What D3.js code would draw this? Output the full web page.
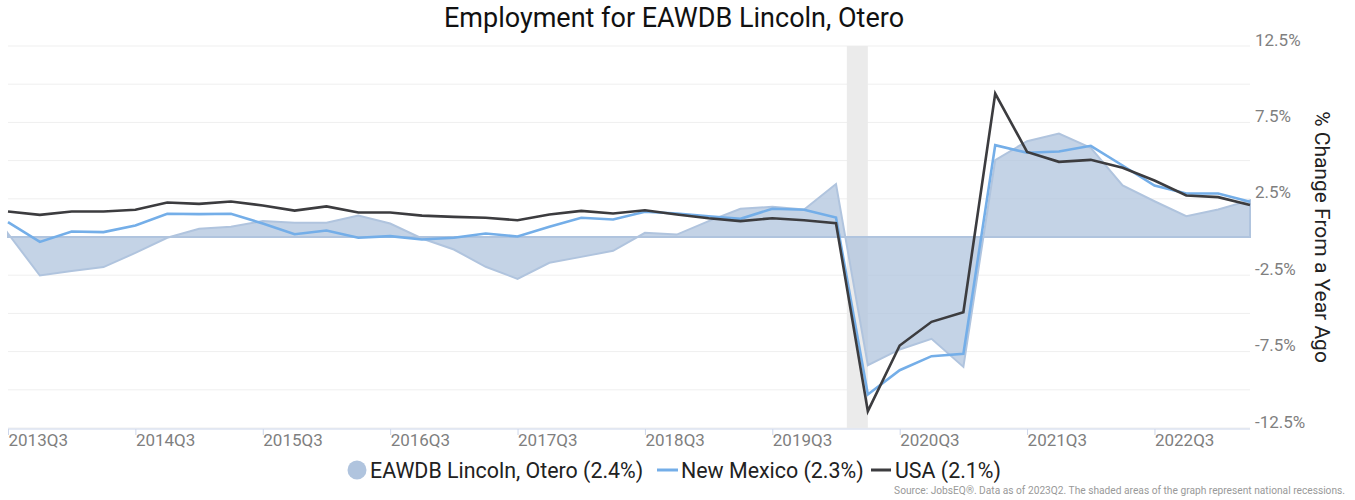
<!DOCTYPE html>
<html>
<head>
<meta charset="utf-8">
<script src="https://cdn.jsdelivr.net/npm/d3@7"></script>
<style>
  body { margin: 0; background: #fff; }
  text { font-family: Roboto, "Noto Sans", sans-serif; }
</style>
</head>
<body>
<div id="chart"></div>
<script>
// quarters shown on the x axis
var quarters = [
  "2013Q3","2013Q4","2014Q1","2014Q2","2014Q3","2014Q4","2015Q1","2015Q2",
  "2015Q3","2015Q4","2016Q1","2016Q2","2016Q3","2016Q4","2017Q1","2017Q2",
  "2017Q3","2017Q4","2018Q1","2018Q2","2018Q3","2018Q4","2019Q1","2019Q2",
  "2019Q3","2019Q4","2020Q1","2020Q2","2020Q3","2020Q4","2021Q1","2021Q2",
  "2021Q3","2021Q4","2022Q1","2022Q2","2022Q3","2022Q4","2023Q1","2023Q2"
];

var lincolnOtero = [
  0.23,-2.52,-2.23,-1.97,-1.04,-0.05,0.54,0.67,1.04,0.93,
  0.93,1.41,0.88,-0.1,-0.82,-1.95,-2.74,-1.69,-1.3,-0.9,
  0.27,0.16,1.04,1.85,1.98,1.8,3.47,-8.39,-7.36,-6.66,
  -8.5,5.03,6.27,6.77,5.84,3.37,2.34,1.36,1.8,2.4
];

var newMexico = [
  0.97,-0.32,0.36,0.32,0.75,1.52,1.5,1.52,0.88,0.18,
  0.42,-0.05,0.06,-0.16,-0.05,0.23,0.03,0.67,1.26,1.15,
  1.65,1.54,1.36,1.19,1.85,1.78,1.28,-10.31,-8.72,-7.8,
  -7.65,6.01,5.51,5.6,5.97,4.68,3.37,2.85,2.85,2.3
];

var usa = [
  1.67,1.45,1.67,1.67,1.78,2.26,2.17,2.32,2.06,1.73,
  2.0,1.6,1.6,1.4,1.32,1.26,1.1,1.47,1.71,1.54,
  1.75,1.47,1.23,1.04,1.23,1.1,0.9,-11.4,-7.1,-5.55,
  -4.92,9.39,5.57,4.92,5.05,4.53,3.7,2.72,2.61,2.1
];

var tickLabels = ["2013Q3","2014Q3","2015Q3","2016Q3","2017Q3","2018Q3","2019Q3","2020Q3","2021Q3","2022Q3"];
var yTicks = [12.5, 10, 7.5, 5, 2.5, 0, -2.5, -5, -7.5, -10, -12.5];
var yLabels = [12.5, 7.5, 2.5, -2.5, -7.5, -12.5];

// recession: Feb 2020 - Apr 2020, in quarter index units
var recession = [26 + 31 / 91, 27];

var svgWidth = 1355;
var svgHeight = 500;

var svg = d3.select("#chart")
  .append("svg")
  .attr("width", svgWidth)
  .attr("height", svgHeight);

var xScale = d3.scaleLinear()
  .domain([0, quarters.length - 1])
  .range([8, 1250]);

var yScale = d3.scaleLinear()
  .domain([-12.5, 12.5])
  .range([428, 46]);

// title
svg.append("text")
  .attr("x", 674)
  .attr("y", 27)
  .attr("text-anchor", "middle")
  .style("font-size", "27px")
  .style("fill", "#111")
  .text("Employment for EAWDB Lincoln, Otero");

// gridlines
svg.append("g")
  .selectAll("line")
  .data(yTicks)
  .enter()
  .append("line")
  .attr("x1", xScale(0))
  .attr("x2", xScale(quarters.length - 1))
  .attr("y1", d => yScale(d))
  .attr("y2", d => yScale(d))
  .attr("stroke", "#efefef")
  .attr("stroke-width", 1);

// recession band
svg.append("rect")
  .attr("x", xScale(recession[0]))
  .attr("y", yScale(12.5))
  .attr("width", xScale(recession[1]) - xScale(recession[0]))
  .attr("height", yScale(-12.5) - yScale(12.5))
  .attr("fill", "#ebebeb");

// area for the region
var area = d3.area()
  .x((d, i) => xScale(i))
  .y0(yScale(0))
  .y1(d => yScale(d));

svg.append("path")
  .datum(lincolnOtero)
  .attr("d", area)
  .attr("fill", "#b0c4de")
  .attr("fill-opacity", 0.75)
  .attr("stroke", "#b0c4de")
  .attr("stroke-width", 2);

var line = d3.line()
  .x((d, i) => xScale(i))
  .y(d => yScale(d));

svg.append("path")
  .datum(newMexico)
  .attr("d", line)
  .attr("fill", "none")
  .attr("stroke", "#74aee8")
  .attr("stroke-width", 2.6);

svg.append("path")
  .datum(usa)
  .attr("d", line)
  .attr("fill", "none")
  .attr("stroke", "#3c3c3f")
  .attr("stroke-width", 2.6);

// x axis
var xAxis = svg.append("g")
  .attr("transform", "translate(0, 429)")
  .call(d3.axisBottom(xScale)
    .tickValues(tickLabels.map(t => quarters.indexOf(t)))
    .tickFormat(i => quarters[i])
    .tickSize(6)
    .tickSizeOuter(0));

xAxis.select(".domain")
  .attr("stroke", "#ccd6eb")
  .attr("d", "M" + xScale(0) + ",0H" + xScale(quarters.length - 1));
xAxis.selectAll(".tick line").attr("stroke", "#ccd6eb");
xAxis.selectAll(".tick text")
  .attr("text-anchor", "start")
  .attr("x", 0)
  .attr("y", 5)
  .attr("dy", "0.71em")
  .style("font-size", "17px")
  .style("font-family", "Roboto, sans-serif")
  .style("fill", "#7f7f7f");

// right axis labels
svg.append("g")
  .selectAll("text")
  .data(yLabels)
  .enter()
  .append("text")
  .attr("x", 1255)
  .attr("y", d => yScale(d) - 0.5)
  .style("font-size", "17px")
  .style("fill", "#7f7f7f")
  .text(d => d + "%");

svg.append("text")
  .attr("transform", "translate(1315, 237) rotate(90)")
  .attr("text-anchor", "middle")
  .style("font-size", "21px")
  .style("fill", "#222")
  .text("% Change From a Year Ago");

// legend
var legend = svg.append("g");

legend.append("circle")
  .attr("cx", 357)
  .attr("cy", 470)
  .attr("r", 9.5)
  .attr("fill", "#b0c4de");

legend.append("text")
  .attr("x", 370)
  .attr("y", 477.5)
  .style("font-size", "21.4px")
  .style("fill", "#222")
  .text("EAWDB Lincoln, Otero (2.4%)");

legend.append("line")
  .attr("x1", 657).attr("x2", 678)
  .attr("y1", 470).attr("y2", 470)
  .attr("stroke", "#74aee8")
  .attr("stroke-width", 3);

legend.append("text")
  .attr("x", 681)
  .attr("y", 477.5)
  .style("font-size", "21.4px")
  .style("fill", "#222")
  .text("New Mexico (2.3%)");

legend.append("line")
  .attr("x1", 871).attr("x2", 891)
  .attr("y1", 470).attr("y2", 470)
  .attr("stroke", "#3c3c3f")
  .attr("stroke-width", 3);

legend.append("text")
  .attr("x", 895)
  .attr("y", 477.5)
  .style("font-size", "21.4px")
  .style("fill", "#222")
  .text("USA (2.1%)");

// source note
svg.append("text")
  .attr("x", 1345)
  .attr("y", 494)
  .attr("text-anchor", "end")
  .style("font-size", "10.2px")
  .style("fill", "#999")
  .text("Source: JobsEQ®. Data as of 2023Q2. The shaded areas of the graph represent national recessions.");
</script>
</body>
</html>
